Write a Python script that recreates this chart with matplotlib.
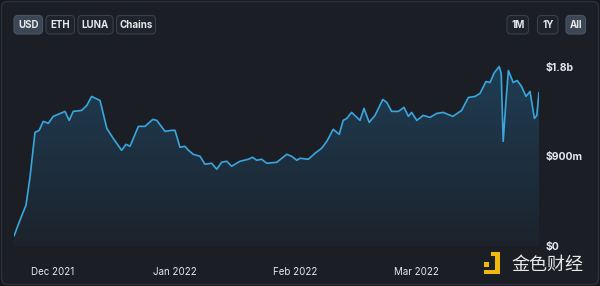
import numpy as np
import matplotlib.pyplot as plt
from matplotlib.patches import FancyBboxPatch, Rectangle
from matplotlib.colors import LinearSegmentedColormap

# TVL: days since 21 Nov 2021, value in billions of USD
days = [0, 1.5, 3, 4, 5.25, 6.3, 7.3, 8.6, 9.8, 12.75, 13.8, 14.8, 16.9, 18.2,
        19.4, 21.5, 22.3, 23.2, 24.8, 26.9, 28, 29, 31.1, 32.75, 34.7, 35.7,
        37.75, 39.4, 40.25, 41.5, 42.75, 43.6, 44.8, 46.5, 47.75, 49.4, 50.7,
        51.9, 53.2, 54.4, 56.5, 58.6, 59.6, 60.7, 61.9, 63.2, 65.7, 68.2, 69.4,
        70.7, 71.5, 73.6, 75.25, 76.9, 78.2, 79.8, 81.3, 82.3, 83.2, 84.4, 86.5,
        87.5, 88.8, 90.25, 92.2, 93.2, 94.4, 96.1, 97.5, 98.6, 99.4, 100.7,
        102.3, 104, 105.7, 107.3, 109.7, 111.9, 113.6, 115.25, 116.5, 118, 119,
        120.1, 121.3, 121.8, 122.3, 123, 123.6, 124.8, 125.8, 126.9, 128, 129,
        130.1, 130.7, 131.25]
tvl = [0.10, 0.26, 0.41, 0.69, 1.14, 1.16, 1.25, 1.23, 1.30, 1.35, 1.26, 1.35,
       1.36, 1.41, 1.50, 1.46, 1.33, 1.18, 1.08, 0.96, 1.02, 1.00, 1.20, 1.20,
       1.27, 1.26, 1.15, 1.16, 1.16, 0.99, 1.00, 0.96, 0.92, 0.90, 0.82, 0.83,
       0.77, 0.84, 0.85, 0.80, 0.85, 0.87, 0.89, 0.86, 0.87, 0.83, 0.84, 0.92,
       0.90, 0.86, 0.88, 0.87, 0.93, 0.98, 1.05, 1.17, 1.12, 1.26, 1.28, 1.34,
       1.26, 1.38, 1.24, 1.31, 1.47, 1.44, 1.35, 1.35, 1.39, 1.30, 1.34, 1.26,
       1.31, 1.29, 1.33, 1.34, 1.30, 1.36, 1.49, 1.50, 1.53, 1.65, 1.64, 1.74,
       1.80, 1.73, 1.05, 1.46, 1.76, 1.64, 1.66, 1.60, 1.50, 1.55, 1.28, 1.31,
       1.54]

month_labels = ['Dec 2021', 'Jan 2022', 'Feb 2022', 'Mar 2022']
month_days = [9.7, 40.1, 70.3, 100.7]
value_ticks = [0, 0.9, 1.8]
value_labels = ['$0', '$900m', '$1.8b']
currency_buttons = ['USD', 'ETH', 'LUNA', 'Chains']
range_buttons = ['1M', '1Y', 'All']
active_buttons = ['USD', 'All']

W, H = 600, 286
bg_color = '#1b1e25'
line_color = '#3aa6de'
text_color = '#e6e8eb'

plt.rcParams['font.family'] = ['Inter', 'DejaVu Sans']

fig = plt.figure(figsize=(W / 100, H / 100), dpi=100)
fig.patch.set_facecolor('#15171c')

# background layer in pixel coordinates
bg = fig.add_axes([0, 0, 1, 1])
bg.set_xlim(0, W)
bg.set_ylim(H, 0)
bg.axis('off')
bg.add_patch(FancyBboxPatch((1.5, 1.5), W - 3, H - 3,
                            boxstyle='round,pad=0,rounding_size=6',
                            facecolor=bg_color, edgecolor='#2d3139', lw=1))

def button(x0, x1, label, active):
    face = '#3b4755' if active else '#1f232b'
    edge = '#4a5563' if active else '#3a4049'
    bg.add_patch(FancyBboxPatch((x0, 15.5), x1 - x0, 18.5,
                                boxstyle='round,pad=0,rounding_size=4',
                                facecolor=face, edgecolor=edge, lw=0.8))
    bg.text((x0 + x1) / 2, 25, label, color=text_color, fontsize=7,
            fontweight='bold', ha='center', va='center')

for (x0, x1), label in zip([(14, 42.5), (46, 74.5), (78, 113), (116.5, 155.5)],
                           currency_buttons):
    button(x0, x1, label, label in active_buttons)
for (x0, x1), label in zip([(507, 528.5), (537.5, 558), (566, 585.5)],
                           range_buttons):
    button(x0, x1, label, label in active_buttons)

# watermark
bg.add_patch(Rectangle((484, 262), 5, 5, facecolor='#f0b90b', lw=0))
bg.add_patch(Rectangle((491, 252), 8, 4, facecolor='#f0b90b', lw=0))
bg.add_patch(Rectangle((495, 252), 5, 22, facecolor='#f0b90b', lw=0))
bg.add_patch(Rectangle((484, 270), 16, 4, facecolor='#f0b90b', lw=0))
bg.text(547, 264.5, '金色财经', color='#e8e8e8', fontsize=13,
        family=['Noto Sans CJK SC', 'DejaVu Sans'], ha='center', va='center')

# chart
px_per_b = 99.7
y_top = 2.1
ax = fig.add_axes([14 / W, 40 / H, 525 / W, y_top * px_per_b / H])
ax.set_facecolor('none')

poly = ax.fill_between(days, tvl, 0, color='none', lw=0)
cmap = LinearSegmentedColormap.from_list('fade', ['#1c232c', '#1f3d54'])
grad = ax.imshow(np.linspace(1, 0, 256).reshape(-1, 1), cmap=cmap,
                 extent=[days[0], days[-1], 0, max(tvl)], aspect='auto',
                 origin='upper', zorder=1)
grad.set_clip_path(poly.get_paths()[0], transform=ax.transData)
ax.plot(days, tvl, color=line_color, lw=1.2, zorder=2,
        solid_joinstyle='round', solid_capstyle='round')

ax.set_xlim(days[0], days[-1])
ax.set_ylim(0, y_top)
ax.set_xticks(month_days)
ax.set_xticklabels(month_labels)
ax.set_yticks(value_ticks)
ax.set_yticklabels(value_labels)
ax.yaxis.tick_right()
ax.tick_params(axis='x', length=0, pad=15, labelsize=7, colors=text_color)
ax.tick_params(axis='y', length=0, pad=5, labelsize=7.5, colors=text_color)
for label in ax.get_yticklabels():
    label.set_fontweight('bold')
for spine in ax.spines.values():
    spine.set_visible(False)

fig.savefig('out.png', dpi=100, facecolor=fig.get_facecolor())
